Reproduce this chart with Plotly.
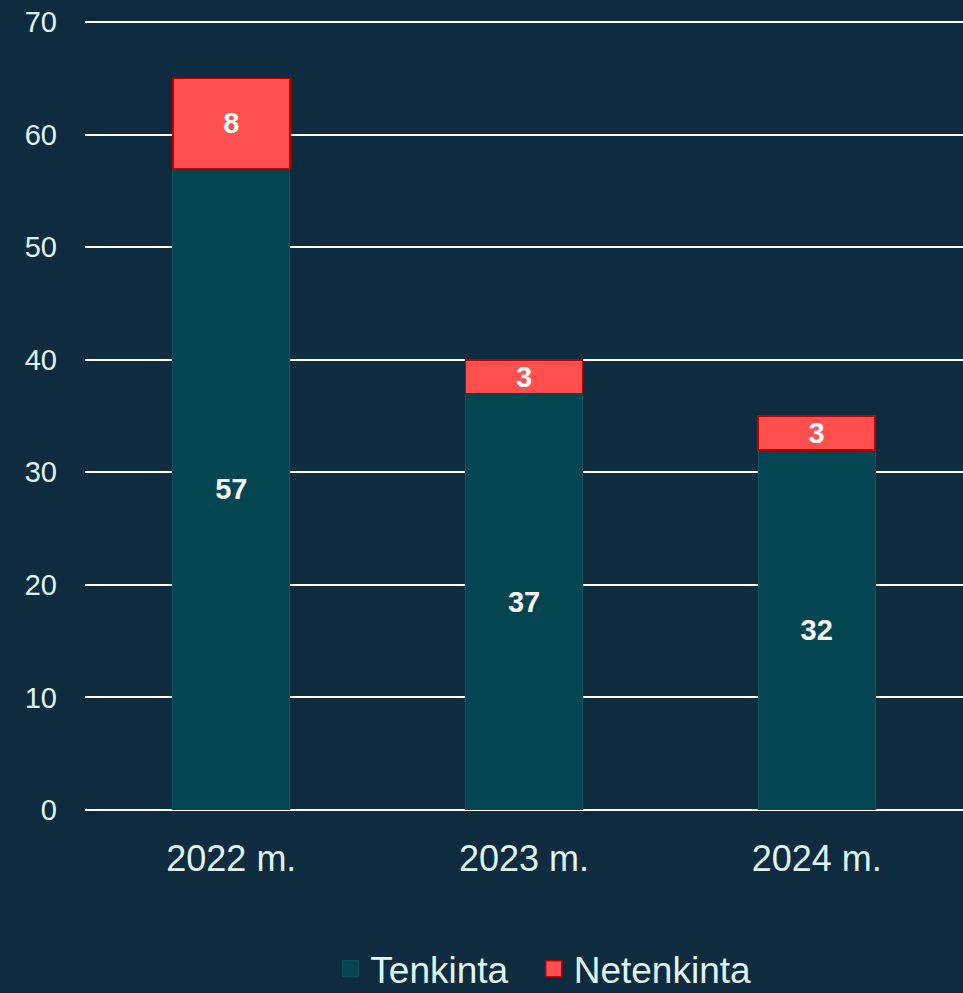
import plotly.graph_objects as go

years = ['2022 m.', '2023 m.', '2024 m.']
tenkinta = [57, 37, 32]
netenkinta = [8, 3, 3]
y_ticks = [0, 10, 20, 30, 40, 50, 60, 70]

bg = '#0F2B3F'
txt = '#E0F7FA'
teal = '#034652'
red = '#FF4F4F'
label_font = dict(color='white', size=29, family='Liberation Sans', weight='bold')

fig = go.Figure()
fig.add_trace(go.Bar(
    x=years, y=tenkinta, name='Tenkinta', showlegend=False,
    marker=dict(color=teal, line=dict(color='#0B5560', width=1)),
    text=tenkinta, textposition='inside', insidetextanchor='middle',
    textangle=0, textfont=label_font, constraintext='none',
))
fig.add_trace(go.Bar(
    x=years, y=netenkinta, name='Netenkinta', showlegend=False,
    marker=dict(color=red, line=dict(color='#C00000', width=1.5)),
    text=netenkinta, textposition='inside', insidetextanchor='middle',
    textangle=0, textfont=label_font, constraintext='none',
))
# legend entries with bigger square swatches (nbsp pads the gap between items)
fig.add_trace(go.Scatter(x=[None], y=[None], mode='markers', name='Tenkinta\u00a0\u00a0',
                         marker=dict(symbol='square', size=16, color=teal,
                                     line=dict(color='#0B5560', width=1))))
fig.add_trace(go.Scatter(x=[None], y=[None], mode='markers', name='Netenkinta',
                         marker=dict(symbol='square', size=16, color=red,
                                     line=dict(color='#C00000', width=1.5))))

fig.update_layout(
    barmode='stack', bargap=0.6,
    width=963, height=993,
    paper_bgcolor=bg, plot_bgcolor=bg,
    margin=dict(l=85, r=0, t=21, b=183),
    font=dict(family='Liberation Sans', color=txt),
    uniformtext=dict(mode=False),
    legend=dict(orientation='h', x=0.522, xanchor='center', yref='container',
                y=0.024, yanchor='middle', itemsizing='trace',
                font=dict(size=37, color=txt), traceorder='normal'),
    xaxis=dict(tickfont=dict(size=36, color=txt), showgrid=False, ticks='',
               showline=False, ticklabelstandoff=24),
    yaxis=dict(range=[0, 70.1], tickvals=y_ticks, tickfont=dict(size=29, color=txt),
               gridcolor='white', gridwidth=1.5, zeroline=True, zerolinecolor='white',
               zerolinewidth=1.5, ticks='', ticklabelstandoff=27),
)

fig.write_html('out.html', config={'displayModeBar': False},
               post_script="document.body.style.margin='0';")
